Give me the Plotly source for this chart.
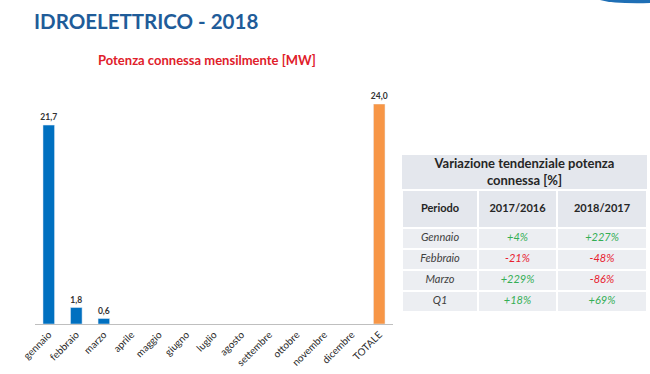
import plotly.graph_objects as go

# ---- data ----
months = ["gennaio", "febbraio", "marzo", "aprile", "maggio", "giugno", "luglio",
          "agosto", "settembre", "ottobre", "novembre", "dicembre", "TOTALE"]
power_mw = [21.7, 1.8, 0.6, None, None, None, None, None, None, None, None, None, 24.0]

table_title = "Variazione tendenziale potenza<br>connessa [%]"
table_header = ["Periodo", "2017/2016", "2018/2017"]
periods = ["Gennaio", "Febbraio", "Marzo", "Q1"]
var_2017_2016 = [4, -21, 229, 18]
var_2018_2017 = [227, -48, -86, 69]

# ---- styling / layout constants ----
BLUE = "#0070C0"
ORANGE = "#F79646"
GREEN = "#34AE55"
RED = "#E8202F"
HEAD_BG = "#E4E7ED"
BODY_BG = "#ECEEF2"
W, H = 650, 374
col_widths = [76, 79, 90]
title_h, header_h, row_h = 35, 38, 21
TABLE_L, TABLE_T = 402, 155

def px_x(x):
    return x / W

def px_y(y):
    return 1 - y / H

bar_colors = [ORANGE if m == "TOTALE" else BLUE for m in months]
labels = ["" if v is None else f"{v:.1f}".replace(".", ",") for v in power_mw]

fig = go.Figure()
fig.add_trace(go.Bar(
    x=months, y=power_mw, marker_color=bar_colors, width=0.42,
    text=labels, textposition="outside", cliponaxis=False, constraintext="none",
    textfont=dict(family="Lato", size=8.5, color="#333333", weight="bold"),
    hoverinfo="skip",
))

# ---- table built on its own axes (x2/y2), units = pixels ----
x_edges = [0]
for w in col_widths:
    x_edges.append(x_edges[-1] + w)
table_w = x_edges[-1]
y_edges = [title_h, title_h + header_h]
for _ in periods:
    y_edges.append(y_edges[-1] + row_h)
table_h = y_edges[-1]

# title row (single merged cell)
fig.add_trace(go.Heatmap(
    z=[[0]], x=[0, table_w], y=[0, title_h], xaxis="x2", yaxis="y2",
    colorscale=[[0, HEAD_BG], [1, BODY_BG]], zmin=0, zmax=1, showscale=False,
    ygap=1, hoverinfo="skip",
))
# header + body cells
z_cells = [[0] * len(col_widths)] + [[1] * len(col_widths) for _ in periods]
fig.add_trace(go.Heatmap(
    z=z_cells, x=x_edges, y=y_edges, xaxis="x2", yaxis="y2",
    colorscale=[[0, HEAD_BG], [1, BODY_BG]], zmin=0, zmax=1, showscale=False,
    xgap=2, ygap=2, hoverinfo="skip",
))

def fmt(v):
    return f"<i>{v:+d}%</i>"

def col(v):
    return GREEN if v >= 0 else RED

x_centers = [(x_edges[i] + x_edges[i + 1]) / 2 for i in range(len(col_widths))]
y_centers = [(y_edges[i] + y_edges[i + 1]) / 2 for i in range(len(y_edges) - 1)]

tx, ty, tt, tc, ts = [], [], [], [], []
# title
tx.append(table_w / 2); ty.append(title_h / 2 + 1)
tt.append(f"<b>{table_title}</b>"); tc.append("#262626"); ts.append(13)
# header
for i, h in enumerate(table_header):
    tx.append(x_centers[i]); ty.append(y_centers[0])
    tt.append(f"<b>{h}</b>"); tc.append("#262626"); ts.append(11)
# body
for r, p in enumerate(periods):
    yc = y_centers[r + 1]
    tx.append(x_centers[0]); ty.append(yc); tt.append(f"<i>{p}</i>"); tc.append("#404040"); ts.append(11)
    v1 = var_2017_2016[r]
    tx.append(x_centers[1]); ty.append(yc); tt.append(fmt(v1)); tc.append(col(v1)); ts.append(11)
    v2 = var_2018_2017[r]
    tx.append(x_centers[2]); ty.append(yc); tt.append(fmt(v2)); tc.append(col(v2)); ts.append(11)

fig.add_trace(go.Scatter(
    x=tx, y=ty, text=tt, mode="text", xaxis="x2", yaxis="y2",
    textfont=dict(family="Lato", size=ts, color=tc), hoverinfo="skip",
    cliponaxis=False,
))

fig.update_layout(
    width=W, height=H, margin=dict(l=0, r=0, t=0, b=0),
    paper_bgcolor="white", plot_bgcolor="rgba(0,0,0,0)", showlegend=False,
    xaxis=dict(domain=[px_x(35), px_x(393)], showline=True, linecolor="#BFBFBF",
               linewidth=1, tickangle=-45, ticks="", showgrid=False, automargin=False,
               tickfont=dict(family="Lato", size=10, color="#2b2b2b")),
    yaxis=dict(domain=[px_y(324), px_y(104)], range=[0, 24], visible=False,
               showgrid=False, automargin=False),
    xaxis2=dict(domain=[px_x(TABLE_L), px_x(TABLE_L + table_w)], range=[0, table_w],
                visible=False, showgrid=False, zeroline=False, anchor="y2", fixedrange=True),
    yaxis2=dict(domain=[px_y(TABLE_T + table_h), px_y(TABLE_T)], range=[table_h, 0],
                visible=False, showgrid=False, zeroline=False, anchor="x2", fixedrange=True),
    annotations=[
        dict(text="IDROELETTRICO - 2018", x=px_x(32), y=px_y(21), xref="paper", yref="paper",
             xanchor="left", yanchor="middle", showarrow=False,
             font=dict(family="Lato", size=20.5, color="#1F5C99", weight="bold")),
        dict(text="Potenza connessa mensilmente [MW]", x=px_x(207), y=px_y(60),
             xref="paper", yref="paper", xanchor="center", yanchor="middle", showarrow=False,
             font=dict(family="Lato", size=13, color="#E0202A", weight="bold")),
    ],
    shapes=[
        dict(type="path", xref="paper", yref="paper",
             path=f"M {px_x(600)},{px_y(0)} Q {px_x(615)},{px_y(4)} {px_x(650)},{px_y(3)} L {px_x(650)},{px_y(0)} Z",
             fillcolor="#1F6FB5", line=dict(width=0)),
    ],
)

fig.write_html("out.html", config={"displayModeBar": False},
               post_script="document.body.style.margin='0';")
